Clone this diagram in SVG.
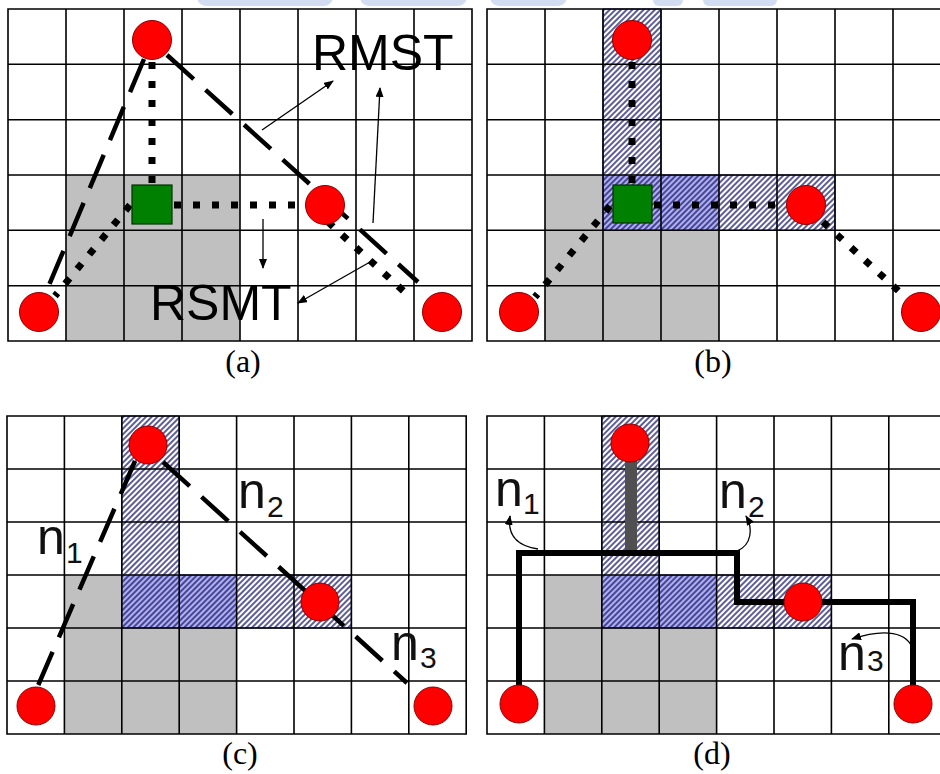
<svg xmlns="http://www.w3.org/2000/svg" width="940" height="774" viewBox="0 0 940 774">
<defs>
<pattern id="hatch" patternUnits="userSpaceOnUse" width="4" height="4" patternTransform="rotate(45)">
<line x1="2" y1="0" x2="2" y2="4" stroke="#18186c" stroke-width="1.4"/>
</pattern>
<marker id="ah" markerUnits="userSpaceOnUse" markerWidth="10" markerHeight="8" refX="9" refY="4" orient="auto">
<path d="M0,0 L10,4 L0,8 Z" fill="#000"/>
</marker>
</defs>
<style>
.grid{fill:none;stroke:#000;stroke-width:1.6}
.gray{fill:#c0c0c0}
.blue{fill:#b0b0f0}
.hat{fill:url(#hatch)}
.hb{fill:none;stroke:#18186c;stroke-width:1}
.pin{fill:#ff0000;stroke:#8a0000;stroke-width:1}
.steiner{fill:#008000;stroke:#003000;stroke-width:1.2}
.dot{fill:none;stroke:#000;stroke-width:7;stroke-dasharray:7 12}
.dash{fill:none;stroke:#000;stroke-width:4.5;stroke-dasharray:36 16}
.thin{fill:none;stroke:#000;stroke-width:1.3}
.big{font-family:"Liberation Sans",Arial,sans-serif;font-size:50px;fill:#000}
.nn{font-family:"Liberation Sans",Arial,sans-serif;font-size:50px;fill:#111}
.sub{font-family:"Liberation Sans",Arial,sans-serif;font-size:30px;fill:#111}
.cap{font-family:"Liberation Serif","Times New Roman",serif;font-size:32px;fill:#000;text-anchor:middle}
.wm{fill:#d3ddf2}
</style>
<rect width="940" height="774" fill="#fff"/>
<g id="watermark">
<rect class="wm" x="197" y="-12" width="136" height="18" rx="9"/>
<rect class="wm" x="360" y="-12" width="107" height="18" rx="9"/>
<rect class="wm" x="490" y="-12" width="77" height="18" rx="9"/>
<rect class="wm" x="653" y="-12" width="30" height="18" rx="6"/>
<rect class="wm" x="703" y="-12" width="74" height="18" rx="6"/>
</g>

<!-- Panel (a) -->
<g id="panel-a">
<rect class="gray" x="66" y="175" width="174" height="166"/>
<path class="grid" d="M8,9H472V341H8Z M66,9V341 M124,9V341 M182,9V341 M240,9V341 M298,9V341 M356,9V341 M414,9V341 M8,64.3H472 M8,119.7H472 M8,175H472 M8,230.3H472 M8,285.7H472"/>
</g>
<g id="connectors-a">
<line class="dash" x1="144" y1="59" x2="47" y2="290"/>
<line class="dash" x1="167" y1="55" x2="418" y2="282"/>
<line class="dot" x1="152" y1="62" x2="152" y2="185"/>
<line class="dot" x1="174" y1="205" x2="305" y2="205"/>
<line class="dot" x1="130" y1="205" x2="55" y2="296"/>
<line class="dot" x1="328" y1="222" x2="410" y2="297"/>
<line class="thin" x1="262" y1="130" x2="333" y2="81" marker-end="url(#ah)"/>
<line class="thin" x1="373" y1="223" x2="380" y2="88" marker-end="url(#ah)"/>
<line class="thin" x1="263" y1="219" x2="263" y2="268" marker-end="url(#ah)"/>
<line class="thin" x1="370" y1="262" x2="298" y2="303" marker-end="url(#ah)"/>
</g>
<g id="a-pin-top"><circle class="pin" cx="152" cy="40" r="19.5"/></g>
<g id="a-pin-right"><circle class="pin" cx="325" cy="205" r="19.5"/></g>
<g id="a-pin-bl"><circle class="pin" cx="39" cy="312" r="19.5"/></g>
<g id="a-pin-br"><circle class="pin" cx="442" cy="312" r="19.5"/></g>
<g id="a-steiner"><rect class="steiner" x="132" y="185" width="40" height="39"/></g>
<g id="a-rmst"><text class="big" x="312" y="70">RMST</text></g>
<g id="a-rsmt"><text class="big" x="150" y="320">RSMT</text></g>
<text class="cap" x="243" y="372">(a)</text>

<!-- Panel (b) -->
<g id="panel-b">
<rect class="gray" x="545" y="175" width="58" height="166"/>
<rect class="gray" x="603" y="230.3" width="116" height="110.7"/>
<rect class="blue" x="603" y="175" width="116" height="55.3"/>
<rect class="hat" x="603" y="9" width="58" height="221.3"/>
<rect class="hat" x="661" y="175" width="174" height="55.3"/>
<path class="hb" d="M603,9H661V175H835V230.3H603Z"/>
<path class="grid" d="M487,9H951V341H487Z M545,9V341 M603,9V341 M661,9V341 M719,9V341 M777,9V341 M835,9V341 M893,9V341 M487,64.3H951 M487,119.7H951 M487,175H951 M487,230.3H951 M487,285.7H951"/>
</g>
<g id="connectors-b">
<line class="dot" x1="632" y1="62" x2="632" y2="185"/>
<line class="dot" x1="654" y1="205" x2="786" y2="205"/>
<line class="dot" x1="610" y1="206" x2="535" y2="297"/>
<line class="dot" x1="823" y1="222" x2="903" y2="295"/>
</g>
<g id="b-pin-top"><circle class="pin" cx="632" cy="40" r="19.5"/></g>
<g id="b-pin-right"><circle class="pin" cx="806" cy="205" r="19.5"/></g>
<g id="b-pin-bl"><circle class="pin" cx="519" cy="312" r="19.5"/></g>
<g id="b-pin-br"><circle class="pin" cx="921" cy="312" r="19.5"/></g>
<g id="b-steiner"><rect class="steiner" x="613" y="185" width="39" height="38"/></g>
<text class="cap" x="713" y="372">(b)</text>

<!-- Panel (c) -->
<g id="panel-c">
<rect class="gray" x="64.4" y="575" width="57.4" height="159"/>
<rect class="gray" x="121.8" y="628" width="114.8" height="106"/>
<rect class="blue" x="121.8" y="575" width="114.8" height="53"/>
<rect class="hat" x="121.8" y="416" width="57.4" height="212"/>
<rect class="hat" x="179.2" y="575" width="172.2" height="53"/>
<path class="hb" d="M121.8,416H179.2V575H351.4V628H121.8Z"/>
<path class="grid" d="M7,416H466.2V734H7Z M64.4,416V734 M121.8,416V734 M179.2,416V734 M236.6,416V734 M294,416V734 M351.4,416V734 M408.8,416V734 M7,469H466.2 M7,522H466.2 M7,575H466.2 M7,628H466.2 M7,681H466.2"/>
</g>
<g id="connectors-c">
<line class="dash" x1="135" y1="461" x2="37" y2="688"/>
<line class="dash" x1="163" y1="462" x2="407" y2="683"/>
</g>
<g id="c-pin-top"><circle class="pin" cx="148" cy="445" r="19"/></g>
<g id="c-pin-right"><circle class="pin" cx="320" cy="602" r="19"/></g>
<g id="c-pin-bl"><circle class="pin" cx="36" cy="706" r="19"/></g>
<g id="c-pin-br"><circle class="pin" cx="433" cy="706" r="19"/></g>
<g id="c-n1"><text class="nn" x="37" y="554">n</text><text class="sub" x="66" y="563">1</text></g>
<g id="c-n2"><text class="nn" x="238" y="508">n</text><text class="sub" x="267" y="517">2</text></g>
<g id="c-n3"><text class="nn" x="391" y="660">n</text><text class="sub" x="420" y="668">3</text></g>
<text class="cap" x="240" y="764">(c)</text>

<!-- Panel (d) -->
<g id="panel-d">
<rect class="gray" x="544.4" y="575" width="57.4" height="159"/>
<rect class="gray" x="601.8" y="628" width="114.8" height="106"/>
<rect class="blue" x="601.8" y="575" width="114.8" height="53"/>
<rect class="hat" x="601.8" y="416" width="57.4" height="212"/>
<rect class="hat" x="659.2" y="575" width="172.2" height="53"/>
<path class="hb" d="M601.8,416H659.2V575H831.4V628H601.8Z"/>
<path class="grid" d="M487,416H946.2V734H487Z M544.4,416V734 M601.8,416V734 M659.2,416V734 M716.6,416V734 M774,416V734 M831.4,416V734 M888.8,416V734 M487,469H946.2 M487,522H946.2 M487,575H946.2 M487,628H946.2 M487,681H946.2"/>
</g>
<g id="connectors-d">
<line x1="631" y1="460" x2="631" y2="553" stroke="#505050" stroke-width="12"/>
<path d="M519,688V553H737V602H913V688" fill="none" stroke="#000" stroke-width="6" stroke-linejoin="miter"/>
<path class="thin" d="M538,549 C518,546 507,536 510,516" marker-end="url(#ah)"/>
<path class="thin" d="M737,551 C752,545 753,528 746,516" marker-end="url(#ah)"/>
<path class="thin" d="M913,650 C908,632 885,628 852,639" marker-end="url(#ah)"/>
</g>
<g id="d-pin-top"><circle class="pin" cx="630" cy="443" r="19"/></g>
<g id="d-pin-right"><circle class="pin" cx="803" cy="602" r="19"/></g>
<g id="d-pin-bl"><circle class="pin" cx="519" cy="704" r="19"/></g>
<g id="d-pin-br"><circle class="pin" cx="913" cy="704" r="19"/></g>
<g id="d-n1"><text class="nn" x="495" y="506">n</text><text class="sub" x="523" y="514">1</text></g>
<g id="d-n2"><text class="nn" x="719" y="508">n</text><text class="sub" x="748" y="517">2</text></g>
<g id="d-n3"><text class="nn" x="838" y="670">n</text><text class="sub" x="867" y="671">3</text></g>
<text class="cap" x="712" y="764">(d)</text>
</svg>
